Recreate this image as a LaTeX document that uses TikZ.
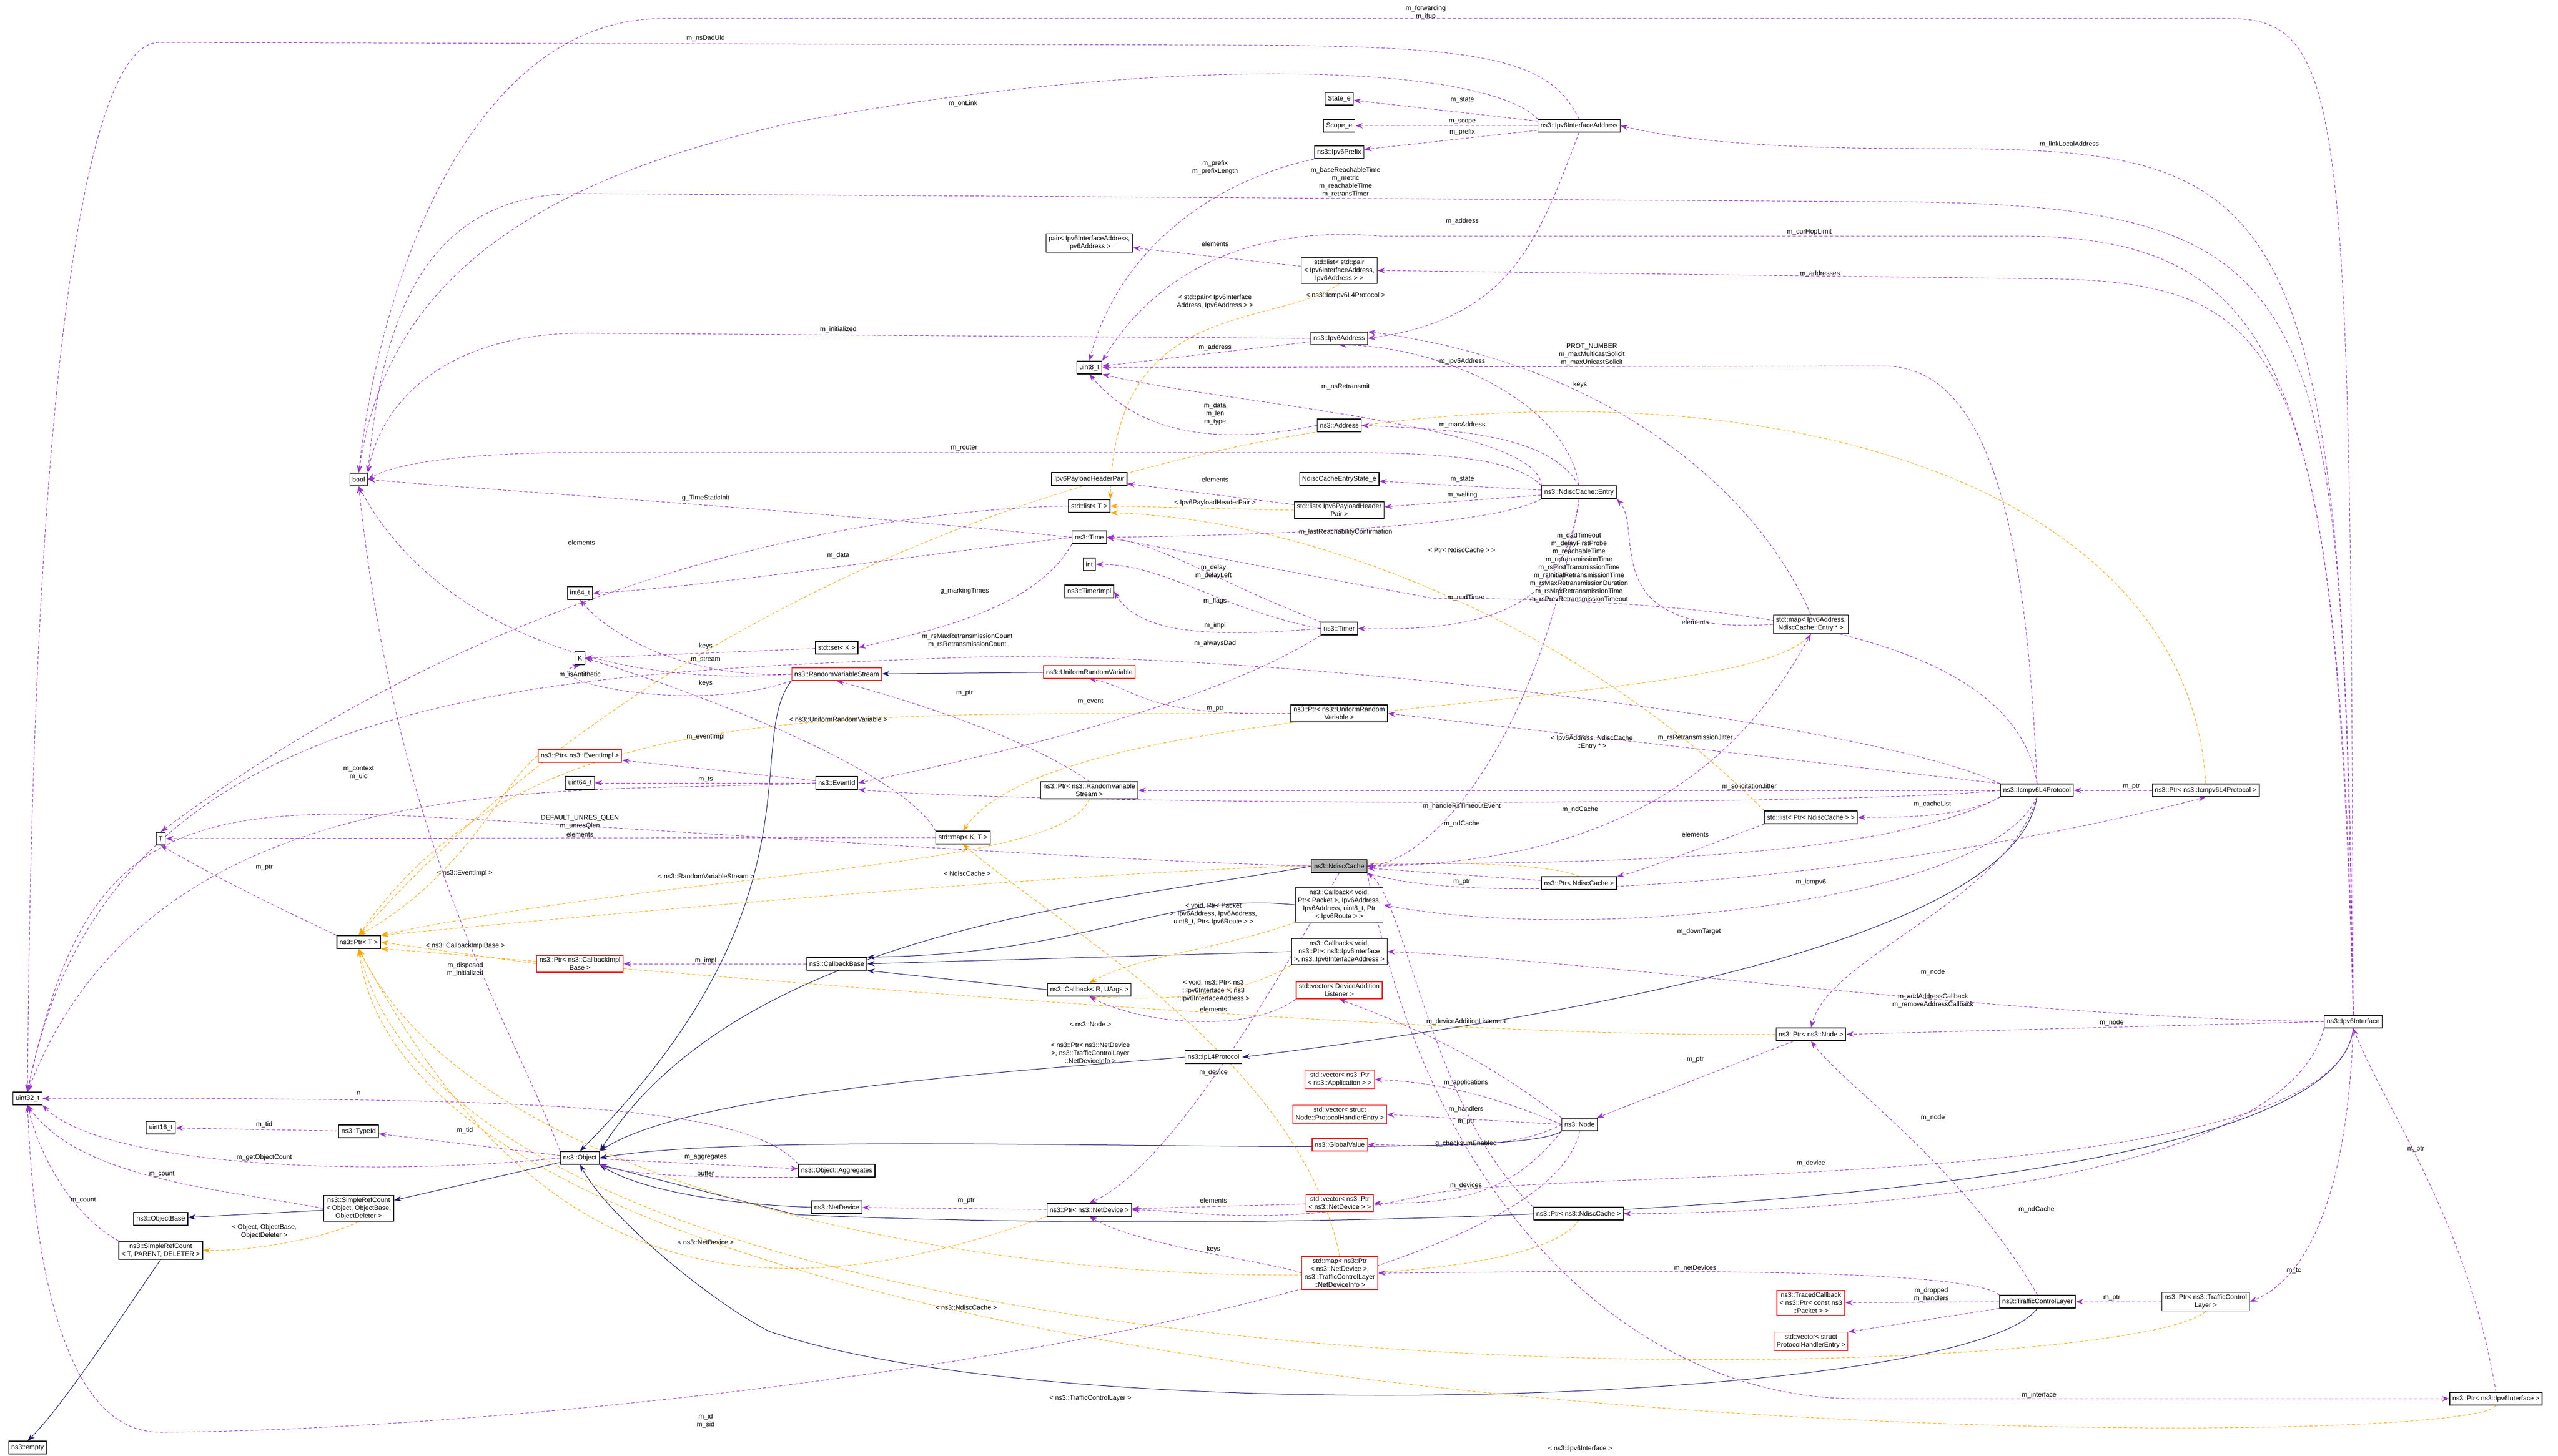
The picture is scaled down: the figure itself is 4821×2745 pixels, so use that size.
\documentclass[tikz,border=0pt]{standalone}
\usepackage{fontspec}
\setmainfont{Liberation Sans}
\usetikzlibrary{arrows.meta}
\definecolor{dorchid}{RGB}{154,50,205}
\definecolor{mnblue}{RGB}{25,25,112}
\definecolor{dorange}{RGB}{255,165,0}
\newcommand{\fs}{\fontsize{12.5}{15}\selectfont}
\pgfdeclarelayer{edges}
\pgfsetlayers{edges,main}
\begin{document}
\begin{tikzpicture}[x=1pt,y=-1pt,
  cls/.style={draw=black,line width=1.3pt,fill=white,font=\fs,align=center,inner xsep=5pt,inner ysep=4pt,minimum height=24pt},
  redcls/.style={cls,draw=red},
  cur/.style={cls,fill=gray!60},
  lbl/.style={font=\fs,align=center,inner sep=1pt},
  mem/.style={draw=dorchid,line width=1pt,dash pattern=on 6pt off 4pt,-{Stealth[length=14pt,width=10pt]}},
  inh/.style={draw=mnblue,line width=1pt,-{Stealth[length=14pt,width=10pt]}},
  tpl/.style={draw=dorange,line width=1pt,dash pattern=on 6pt off 4pt,-{Stealth[length=14pt,width=10pt]}}]
\useasboundingbox (0,0) rectangle (4821,2745);
% nodes, left part
\node[cls] (bool) at (676,904) {bool};
\node[cls] (u32) at (52,2071) {uint32\_t};
\node[cls] (u16) at (303,2126) {uint16\_t};
\node[cls] (T) at (303,1581) {T};
\node[cls] (ptrT) at (676,1776) {ns3::Ptr< T >};
\node[cls] (i64) at (1093,1118) {int64\_t};
\node[cls] (K) at (1093,1241) {K};
\node[cls] (setK) at (1577,1221) {std::set< K >};
\node[redcls] (rvs) at (1577,1271) {ns3::RandomVariableStream};
\node[redcls] (ptrEv) at (1093,1425) {ns3::Ptr< ns3::EventImpl >};
\node[cls] (u64) at (1093,1476) {uint64\_t};
\node[cls] (evid) at (1577,1476) {ns3::EventId};
\node[redcls] (ptrCib) at (1093,1817) {ns3::Ptr< ns3::CallbackImpl\\Base >};
\node[cls] (cbb) at (1577,1817) {ns3::CallbackBase};
\node[cls] (tid) at (676,2133) {ns3::TypeId};
\node[cls] (obj) at (1093,2183) {ns3::Object};
\node[cls] (aggr) at (1577,2207) {ns3::Object::Aggregates};
\node[cls] (netdev) at (1577,2276) {ns3::NetDevice};
\node[cls] (srcObj) at (676,2278) {ns3::SimpleRefCount\\< Object, ObjectBase,\\ObjectDeleter >};
\node[cls] (objbase) at (303,2298) {ns3::ObjectBase};
\node[cls] (srcT) at (303,2357) {ns3::SimpleRefCount\\< T, PARENT, DELETER >};
\node[cls] (empty) at (52,2729) {ns3::empty};
% nodes, middle columns
\node[cls] (stateE) at (2524,186) {State\_e};
\node[cls] (scopeE) at (2524,237) {Scope\_e};
\node[cls] (prefix) at (2524,287) {ns3::Ipv6Prefix};
\node[cls] (ipia) at (2976,237) {ns3::Ipv6InterfaceAddress};
\node[cls] (pairIA) at (2053,458) {pair< Ipv6InterfaceAddress,\\Ipv6Address >};
\node[cls] (listPair) at (2524,510) {std::list< std::pair\\< Ipv6InterfaceAddress,\\Ipv6Address > >};
\node[cls] (ipv6addr) at (2524,638) {ns3::Ipv6Address};
\node[cls] (u8) at (2053,693) {uint8\_t};
\node[cls] (address) at (2524,802) {ns3::Address};
\node[cls] (phpair) at (2053,903) {Ipv6PayloadHeaderPair};
\node[cls] (entState) at (2524,903) {NdiscCacheEntryState\_e};
\node[cls] (listT) at (2053,954) {std::list< T >};
\node[cls] (listPhp) at (2524,962) {std::list< Ipv6PayloadHeader\\Pair >};
\node[cls] (entry) at (2976,928) {ns3::NdiscCache::Entry};
\node[cls] (time) at (2053,1013) {ns3::Time};
\node[cls] (int) at (2053,1064) {int};
\node[cls] (timerImpl) at (2053,1115) {ns3::TimerImpl};
\node[cls] (timer) at (2524,1185) {ns3::Timer};
\node[redcls] (urv) at (2053,1267) {ns3::UniformRandomVariable};
\node[cls] (ptrUrv) at (2524,1345) {ns3::Ptr< ns3::UniformRandom\\Variable >};
\node[cls] (ptrRvs) at (2053,1490) {ns3::Ptr< ns3::RandomVariable\\Stream >};
\node[cls] (mapKT) at (1815,1579) {std::map< K, T >};
\node[cur] (ndc) at (2524,1633) {ns3::NdiscCache};
\node[cls] (ptrNdc) at (2976,1665) {ns3::Ptr< NdiscCache >};
\node[cls] (cbPkt) at (2524,1706) {ns3::Callback< void,\\Ptr< Packet >, Ipv6Address,\\Ipv6Address, uint8\_t, Ptr\\< Ipv6Route > >};
\node[cls] (cbIf) at (2524,1794) {ns3::Callback< void,\\ns3::Ptr< ns3::Ipv6Interface\\>, ns3::Ipv6InterfaceAddress >};
\node[cls] (cbR) at (2053,1866) {ns3::Callback< R, UArgs >};
\node[redcls] (dal) at (2524,1867) {std::vector< DeviceAddition\\Listener >};
\node[cls] (l4) at (2287,1993) {ns3::IpL4Protocol};
\node[redcls] (vApp) at (2525,2035) {std::vector< ns3::Ptr\\< ns3::Application > >};
\node[redcls] (vPhe) at (2525,2101) {std::vector< struct\\Node::ProtocolHandlerEntry >};
\node[redcls] (gval) at (2525,2158) {ns3::GlobalValue};
\node[redcls] (vDev) at (2525,2268) {std::vector< ns3::Ptr\\< ns3::NetDevice > >};
\node[cls] (ptrDev) at (2053,2281) {ns3::Ptr< ns3::NetDevice >};
\node[redcls] (mapDev) at (2525,2400) {std::map< ns3::Ptr\\< ns3::NetDevice >,\\ns3::TrafficControlLayer\\::NetDeviceInfo >};
\node[cls] (node) at (2977,2120) {ns3::Node};
\node[cls] (ptrNdc2) at (2975,2288) {ns3::Ptr< ns3::NdiscCache >};
% nodes, right part
\node[cls] (mapEntry) at (3413,1177) {std::map< Ipv6Address,\\NdiscCache::Entry * >};
\node[cls] (icmp) at (3839,1490) {ns3::Icmpv6L4Protocol};
\node[cls] (ptrIcmp) at (4157,1490) {ns3::Ptr< ns3::Icmpv6L4Protocol >};
\node[cls] (listPtrNdc) at (3413,1541) {std::list< Ptr< NdiscCache > >};
\node[cls] (ptrNode) at (3413,1950) {ns3::Ptr< ns3::Node >};
\node[cls] (ipif) at (4435,1926) {ns3::Ipv6Interface};
\node[redcls] (traced) at (3413,2456) {ns3::TracedCallback\\< ns3::Ptr< const ns3\\::Packet > >};
\node[cls] (tcl) at (3840,2454) {ns3::TrafficControlLayer};
\node[cls] (ptrTcl) at (4157,2454) {ns3::Ptr< ns3::TrafficControl\\Layer >};
\node[redcls] (vPhe2) at (3413,2529) {std::vector< struct\\ProtocolHandlerEntry >};
\node[cls] (ptrIpif) at (4704,2637) {ns3::Ptr< ns3::Ipv6Interface >};
\begin{pgfonlayer}{edges}
% inheritance
\draw[inh] (srcObj) -- (objbase);
\draw[inh] (obj) -- (srcObj);
\draw[inh] (srcT.south) .. controls (250,2450) and (120,2650) .. (empty.north);
\draw[inh] (urv) -- (rvs);
\draw[inh] (rvs.south west) .. controls (1400,1400) and (1560,1700) .. (obj.north);
\draw[inh] (ndc.west) .. controls (2100,1700) and (1400,1750) .. (obj.north east);
\draw[inh] (cbPkt.west) .. controls (2200,1680) and (2050,1800) .. (cbb.north east);
\draw[inh] (cbIf.west) -- (cbb.east);
\draw[inh] (cbR.west) -- (cbb.south east);
\draw[inh] (icmp.south) .. controls (3800,1750) and (3100,1900) .. (l4.east);
\draw[inh] (l4.west) .. controls (1900,2020) and (1300,2060) .. (obj.north east);
\draw[inh] (node.south west) .. controls (2850,2200) and (1500,2120) .. (obj.east);
\draw[inh] (netdev.west) .. controls (1350,2270) and (1200,2240) .. (obj.south east);
\draw[inh] (ipif.south) .. controls (4400,2300) and (2400,2330) .. (1500,2290) -- (obj.south east);
\draw[inh] (tcl.south) .. controls (3700,2650) and (2000,2700) .. (1450,2510) .. controls (1350,2460) and (1150,2300) .. (obj.south);
% template instances
\draw[tpl] (ptrEv.west) .. controls (950,1470) and (880,1650) .. (ptrT.north);
\draw[tpl] (ptrCib.west) -- (ptrT.east);
\draw[tpl] (ptrUrv.west) .. controls (1600,1350) and (1000,1300) .. (ptrT.north);
\draw[tpl] (ptrRvs.south) .. controls (2000,1640) and (1300,1640) .. (ptrT.north east);
\draw[tpl] (ptrNdc.north) .. controls (2800,1580) and (1600,1680) .. (ptrT.north east);
\draw[tpl] (ptrNode.west) .. controls (2600,1960) and (900,1800) .. (ptrT.south east);
\draw[tpl] (ptrDev.south west) .. controls (1400,2500) and (1000,2400) .. (ptrT.south);
\draw[tpl] (ptrNdc2.south) .. controls (2850,2500) and (1000,2450) .. (ptrT.south);
\draw[tpl] (ptrTcl.south) .. controls (4000,2620) and (900,2700) .. (ptrT.south);
\draw[tpl] (ptrIpif.south) .. controls (4650,2750) and (800,2745) .. (ptrT.south);
\draw[tpl] (ptrIcmp.north) .. controls (4100,500) and (1800,500) .. (ptrT.north);
\draw[tpl] (listPair.south) .. controls (2400,620) and (2100,560) .. (listT.north east);
\draw[tpl] (listPhp.west) -- (listT.east);
\draw[tpl] (listPtrNdc.north west) .. controls (3000,1200) and (2500,980) .. (listT.south east);
\draw[tpl] (mapEntry.south) .. controls (3300,1350) and (2000,1300) .. (mapKT.north);
\draw[tpl] (mapDev.north) .. controls (2450,2000) and (2000,1750) .. (mapKT.south);
\draw[tpl] (cbPkt.south west) .. controls (2300,1790) and (2150,1800) .. (cbR.north);
\draw[tpl] (cbIf.south west) .. controls (2300,1900) and (2100,1880) .. (cbR.south);
\draw[tpl] (srcObj.south) .. controls (600,2340) and (450,2360) .. (srcT.east);
% members
\draw[mem] (ipif.north) .. controls (4430,200) and (4420,35) .. (4200,35) -- (1250,35) .. controls (900,35) and (720,500) .. (bool.north);
\draw[mem] (ipia.north) .. controls (2920,110) and (2800,85) .. (2300,85) -- (300,80) .. controls (150,80) and (60,800) .. (u32.north);
\draw[mem] (ipia.north west) .. controls (2800,120) and (2200,100) .. (1500,230) .. controls (900,360) and (720,600) .. (bool.north);
\draw[mem] (ipif.north) .. controls (4410,500) and (4400,380) .. (3500,380) -- (1100,365) .. controls (800,360) and (720,600) .. (bool.north east);
\draw[mem] (ipif.north) .. controls (4420,300) and (4300,280) .. (3600,280) .. controls (3300,280) and (3150,260) .. (ipia.east);
\draw[mem] (ipia) -- (stateE);
\draw[mem] (ipia) -- (scopeE);
\draw[mem] (ipia) -- (prefix);
\draw[mem] (ipia.south) .. controls (2900,450) and (2850,600) .. (ipv6addr.east);
\draw[mem] (prefix.south west) .. controls (2250,350) and (2100,500) .. (u8.north);
\draw[mem] (listPair) -- (pairIA);
\draw[mem] (ipif.north) .. controls (4400,600) and (4300,525) .. (3800,525) -- (listPair.east);
\draw[mem] (ipif.north) .. controls (4410,700) and (4300,445) .. (3800,445) -- (2600,445) .. controls (2300,420) and (2150,560) .. (u8.north east);
\draw[mem] (ipv6addr.west) -- (1100,628) .. controls (850,628) and (720,750) .. (bool.north east);
\draw[mem] (ipv6addr) -- (u8);
\draw[mem] (icmp.north) .. controls (3820,1000) and (3750,690) .. (3550,690) -- (u8.east);
\draw[mem] (entry.north west) .. controls (2900,800) and (2300,760) .. (u8.south east);
\draw[mem] (address.west) .. controls (2300,840) and (2150,820) .. (u8.south);
\draw[mem] (entry.north) .. controls (2950,750) and (2700,650) .. (ipv6addr.south);
\draw[mem] (entry.north) .. controls (2920,820) and (2750,810) .. (address.east);
\draw[mem] (entry.north west) .. controls (2850,860) and (2700,853) .. (2500,853) -- (1100,853) .. controls (900,853) and (750,870) .. (bool.east);
\draw[mem] (entry) -- (entState);
\draw[mem] (entry) -- (listPhp);
\draw[mem] (listPhp) -- (phpair);
\draw[mem] (listT.west) .. controls (1700,960) and (1000,1050) .. (T.north);
\draw[mem] (time.west) .. controls (1500,960) and (1000,930) .. (bool.east);
\draw[mem] (time.west) .. controls (1700,1050) and (1300,1110) .. (i64.east);
\draw[mem] (entry.south west) .. controls (2800,1000) and (2300,1010) .. (time.east);
\draw[mem] (timer.north west) .. controls (2300,1100) and (2200,1030) .. (time.east);
\draw[mem] (timer.west) .. controls (2300,1150) and (2200,1064) .. (int.east);
\draw[mem] (timer.west) .. controls (2300,1200) and (2150,1200) .. (timerImpl.east);
\draw[mem] (timer.south west) .. controls (2300,1320) and (1900,1420) .. (evid.east);
\draw[mem] (entry.south) .. controls (2950,1150) and (2800,1190) .. (timer.east);
\draw[mem] (icmp.north) .. controls (3800,1200) and (3300,1128) .. (2700,1128) -- (time.east);
\draw[mem] (time.south west) .. controls (1950,1150) and (1750,1190) .. (setK.east);
\draw[mem] (setK) -- (K);
\draw[mem] (rvs.west) .. controls (1300,1280) and (1150,1200) .. (i64.south);
\draw[mem] (rvs.south west) .. controls (1300,1350) and (1000,1280) .. (K.south);
\draw[mem] (rvs.west) .. controls (1100,1300) and (800,1150) .. (bool.south);
\draw[mem] (icmp.north west) .. controls (3500,1350) and (2300,1220) .. (1800,1240) .. controls (1000,1270) and (200,1300) .. (u32.north);
\draw[mem] (ptrUrv.west) .. controls (2150,1350) and (2150,1300) .. (urv.south);
\draw[mem] (icmp.north west) -- (ptrUrv.east);
\draw[mem] (ptrRvs.north) .. controls (1950,1400) and (1750,1330) .. (rvs.south);
\draw[mem] (icmp.west) -- (ptrRvs.east);
\draw[mem] (evid) -- (ptrEv);
\draw[mem] (evid) -- (u64);
\draw[mem] (evid.west) .. controls (1100,1500) and (300,1420) .. (u32.north);
\draw[mem] (icmp.west) .. controls (3500,1520) and (2000,1520) .. (evid.south east);
\draw[mem] (mapKT.north west) .. controls (1700,1450) and (1300,1300) .. (K.east);
\draw[mem] (mapKT.west) -- (T.east);
\draw[mem] (ndc.west) .. controls (2000,1620) and (1200,1560) .. (800,1540) .. controls (300,1510) and (150,1600) .. (u32.north);
\draw[mem] (ptrT.north west) .. controls (500,1700) and (400,1650) .. (T.south);
\draw[mem] (cbb) -- (ptrCib);
\draw[mem] (obj.north west) .. controls (950,1900) and (750,1600) .. (bool.south);
\draw[mem] (obj) -- (tid);
\draw[mem] (tid) -- (u16);
\draw[mem] (obj.west) .. controls (700,2220) and (200,2200) .. (u32.south east);
\draw[mem] (srcObj.west) .. controls (400,2240) and (150,2220) .. (u32.south);
\draw[mem] (srcT.north west) .. controls (150,2300) and (80,2200) .. (u32.south);
\draw[mem] (aggr.north west) .. controls (1400,2080) and (1000,2070) .. (u32.east);
\draw[mem] (obj) -- (aggr);
\draw[mem] (aggr.south west) .. controls (1400,2220) and (1200,2220) .. (obj.south east);
\draw[mem] (ptrDev) -- (netdev);
\draw[mem] (entry.south) .. controls (2900,1400) and (2700,1620) .. (ndc.east);
\draw[mem] (icmp.south west) .. controls (3500,1650) and (2700,1620) .. (ndc.east);
\draw[mem] (ptrNdc) -- (ndc);
\draw[mem] (ptrNdc2.north west) .. controls (2700,2100) and (2650,1700) .. (ndc.south east);
\draw[mem] (ndc.south east) .. controls (2800,1720) and (3600,1650) .. (ptrIcmp.south);
\draw[mem] (ndc.east) .. controls (3100,1630) and (3300,1400) .. (mapEntry.south);
\draw[mem] (icmp.south west) .. controls (3700,1540) and (3600,1541) .. (listPtrNdc.east);
\draw[mem] (listPtrNdc.south west) .. controls (3200,1600) and (3100,1640) .. (ptrNdc.north east);
\draw[mem] (mapEntry.west) .. controls (3000,1200) and (3100,1000) .. (entry.south east);
\draw[mem] (mapEntry.north) .. controls (3300,900) and (3000,680) .. (ipv6addr.north east);
\draw[mem] (ptrIcmp) -- (icmp);
\draw[mem] (icmp.south) .. controls (3750,1700) and (3000,1780) .. (cbPkt.east);
\draw[mem] (ipif.west) .. controls (3800,1920) and (3000,1810) .. (cbIf.east);
\draw[mem] (icmp.south) .. controls (3780,1700) and (3450,1800) .. (ptrNode.north);
\draw[mem] (ipif.west) -- (ptrNode.east);
\draw[mem] (tcl.north) .. controls (3700,2200) and (3480,2050) .. (ptrNode.south);
\draw[mem] (ptrNode) -- (node);
\draw[mem] (node.north west) .. controls (2800,2000) and (2700,1950) .. (dal.south);
\draw[mem] (dal.south west) .. controls (2350,1950) and (2150,1930) .. (cbR.south);
\draw[mem] (node.west) .. controls (2800,2060) and (2700,2040) .. (vApp.east);
\draw[mem] (node.west) -- (vPhe.east);
\draw[mem] (node.west) .. controls (2850,2170) and (2700,2160) .. (gval.east);
\draw[mem] (node.south west) .. controls (2850,2250) and (2750,2270) .. (vDev.east);
\draw[mem] (vDev) -- (ptrDev);
\draw[mem] (ndc.south) .. controls (2380,1900) and (2200,2200) .. (ptrDev.north);
\draw[mem] (ipif.south) .. controls (4400,2250) and (3000,2200) .. (2700,2250) .. controls (2400,2320) and (2250,2281) .. (ptrDev.east);
\draw[mem] (node.south) .. controls (2900,2500) and (1000,2700) .. (300,2700) .. controls (100,2700) and (60,2300) .. (u32.south);
\draw[mem] (ipif.south west) .. controls (4300,2260) and (3300,2288) .. (ptrNdc2.east);
\draw[mem] (tcl.north west) .. controls (3700,2380) and (2800,2400) .. (mapDev.east);
\draw[mem] (mapDev.west) .. controls (2400,2380) and (2150,2350) .. (ptrDev.south);
\draw[mem] (tcl) -- (traced);
\draw[mem] (tcl.south west) -- (vPhe2.north east);
\draw[mem] (ptrTcl) -- (tcl);
\draw[mem] (ipif.south) .. controls (4420,2350) and (4300,2430) .. (ptrTcl.east);
\draw[mem] (ptrIpif.north) .. controls (4650,2300) and (4500,2100) .. (ipif.south);
\draw[mem] (ndc.south east) .. controls (2700,2300) and (3100,2637) .. (3500,2637) -- (ptrIpif.west);
\end{pgfonlayer}
% labels
\node[lbl] (lFwd) at (2687,24) {m\_forwarding\\m\_ifup};
\node[lbl] (lDad) at (1330,72) {m\_nsDadUid};
\node[lbl] (lOnl) at (1815,195) {m\_onLink};
\node[lbl] (lLla) at (3900,272) {m\_linkLocalAddress};
\node[lbl] (lState) at (2756,189) {m\_state};
\node[lbl] (lScope) at (2756,229) {m\_scope};
\node[lbl] (lPfx) at (2756,249) {m\_prefix};
\node[lbl] (lPfx2) at (2290,316) {m\_prefix\\m\_prefixLength};
\node[lbl] (lBrt) at (2536,344) {m\_baseReachableTime\\m\_metric\\m\_reachableTime\\m\_retransTimer};
\node[lbl] (lAddr) at (2756,417) {m\_address};
\node[lbl] (lHop) at (3410,437) {m\_curHopLimit};
\node[lbl] (lElPair) at (2290,460) {elements};
\node[lbl] (lAddrs) at (3430,516) {m\_addresses};
\node[lbl] (lTplIcmp) at (2536,557) {< ns3::Icmpv6L4Protocol >};
\node[lbl] (lTplPair) at (2290,569) {< std::pair< Ipv6Interface\\Address, Ipv6Address > >};
\node[lbl] (lInit) at (1580,621) {m\_initialized};
\node[lbl] (lAddr2) at (2290,655) {m\_address};
\node[lbl] (lIpv6) at (2756,681) {m\_ipv6Address};
\node[lbl] (lProt) at (3000,668) {PROT\_NUMBER\\m\_maxMulticastSolicit\\m\_maxUnicastSolicit};
\node[lbl] (lKeys) at (2978,725) {keys};
\node[lbl] (lNsr) at (2536,729) {m\_nsRetransmit};
\node[lbl] (lData) at (2290,780) {m\_data\\m\_len\\m\_type};
\node[lbl] (lMac) at (2756,801) {m\_macAddress};
\node[lbl] (lRouter) at (1817,845) {m\_router};
\node[lbl] (lEst) at (2756,904) {m\_state};
\node[lbl] (lElPh) at (2290,904) {elements};
\node[lbl] (lWait) at (2756,933) {m\_waiting};
\node[lbl] (lTplPh) at (2290,948) {< Ipv6PayloadHeaderPair >};
\node[lbl] (lTsi) at (1330,939) {g\_TimeStaticInit};
\node[lbl] (lElT) at (1096,1023) {elements};
\node[lbl] (lLrc) at (2536,1003) {m\_lastReachabilityConfirmation};
\node[lbl] (lTimes) at (2976,1070) {m\_dadTimeout\\m\_delayFirstProbe\\m\_reachableTime\\m\_retransmissionTime\\m\_rsFirstTransmissionTime\\m\_rsInitialRetransmissionTime\\m\_rsMaxRetransmissionDuration\\m\_rsMaxRetransmissionTime\\m\_rsPrevRetransmissionTimeout};
\node[lbl] (lPtrNdcT) at (2755,1037) {< Ptr< NdiscCache > >};
\node[lbl] (lMdata) at (1580,1047) {m\_data};
\node[lbl] (lDelay) at (2287,1078) {m\_delay\\m\_delayLeft};
\node[lbl] (lMark) at (1818,1114) {g\_markingTimes};
\node[lbl] (lNud) at (2763,1127) {m\_nudTimer};
\node[lbl] (lFlags) at (2290,1133) {m\_flags};
\node[lbl] (lElEnt) at (3195,1173) {elements};
\node[lbl] (lImpl) at (2290,1179) {m\_impl};
\node[lbl] (lRsCnt) at (1823,1208) {m\_rsMaxRetransmissionCount\\m\_rsRetransmissionCount};
\node[lbl] (lAlw) at (2290,1213) {m\_alwaysDad};
\node[lbl] (lKeysS) at (1330,1218) {keys};
\node[lbl] (lStream) at (1330,1244) {m\_stream};
\node[lbl] (lAnti) at (1093,1272) {m\_isAntithetic};
\node[lbl] (lKeysM) at (1330,1288) {keys};
\node[lbl] (lPtrR) at (1818,1307) {m\_ptr};
\node[lbl] (lEvent) at (2055,1323) {m\_event};
\node[lbl] (lPtrU) at (2290,1336) {m\_ptr};
\node[lbl] (lRsJit) at (3195,1391) {m\_rsRetransmissionJitter};
\node[lbl] (lTplU) at (1580,1356) {< ns3::UniformRandomVariable >};
\node[lbl] (lTplE) at (3000,1400) {< Ipv6Address, NdiscCache\\::Entry * >};
\node[lbl] (lEvImpl) at (1330,1389) {m\_eventImpl};
\node[lbl] (lCtx) at (676,1457) {m\_context\\m\_uid};
\node[lbl] (lTs) at (1330,1470) {m\_ts};
\node[lbl] (lSol) at (3297,1483) {m\_solicitationJitter};
\node[lbl] (lHrs) at (2755,1520) {m\_handleRsTimeoutEvent};
\node[lbl] (lNdc1) at (2978,1526) {m\_ndCache};
\node[lbl] (lCList) at (3642,1516) {m\_cacheList};
\node[lbl] (lPtrIc) at (4017,1483) {m\_ptr};
\node[lbl] (lUnres) at (1093,1550) {DEFAULT\_UNRES\_QLEN\\m\_unresQlen};
\node[lbl] (lElKT) at (1093,1573) {elements};
\node[lbl] (lNdc2) at (2755,1553) {m\_ndCache};
\node[lbl] (lElL) at (3195,1573) {elements};
\node[lbl] (lPtrT) at (498,1636) {m\_ptr};
\node[lbl] (lTplEv) at (876,1646) {< ns3::EventImpl >};
\node[lbl] (lTplR) at (1331,1652) {< ns3::RandomVariableStream >};
\node[lbl] (lTplN) at (1823,1647) {< NdiscCache >};
\node[lbl] (lPtrN1) at (2755,1663) {m\_ptr};
\node[lbl] (lIcmpv6) at (3413,1663) {m\_icmpv6};
\node[lbl] (lTplPkt) at (2287,1723) {< void, Ptr< Packet\\>, Ipv6Address, Ipv6Address,\\uint8\_t, Ptr< Ipv6Route > >};
\node[lbl] (lDown) at (3202,1756) {m\_downTarget};
\node[lbl] (lTplCib) at (877,1783) {< ns3::CallbackImplBase >};
\node[lbl] (lDisp) at (877,1828) {m\_disposed\\m\_initialized};
\node[lbl] (lImplC) at (1330,1811) {m\_impl};
\node[lbl] (lNode1) at (3643,1833) {m\_node};
\node[lbl] (lTplIf) at (2287,1868) {< void, ns3::Ptr< ns3\\::Ipv6Interface >, ns3\\::Ipv6InterfaceAddress >};
\node[lbl] (lAddCb) at (3643,1887) {m\_addAddressCallback\\m\_removeAddressCallback};
\node[lbl] (lElCb) at (2287,1903) {elements};
\node[lbl] (lTplNode) at (2055,1931) {< ns3::Node >};
\node[lbl] (lNode2) at (3980,1928) {m\_node};
\node[lbl] (lDal) at (2763,1926) {m\_deviceAdditionListeners};
\node[lbl] (lTplDev) at (2055,1985) {< ns3::Ptr< ns3::NetDevice\\>, ns3::TrafficControlLayer\\::NetDeviceInfo >};
\node[lbl] (lPtrNd) at (3195,1998) {m\_ptr};
\node[lbl] (lDevice) at (2287,2022) {m\_device};
\node[lbl] (lApps) at (2763,2041) {m\_applications};
\node[lbl] (lNuInt) at (676,2061) {n};
\node[lbl] (lHand) at (2763,2091) {m\_handlers};
\node[lbl] (lPtrX) at (2763,2115) {m\_ptr};
\node[lbl] (lTid) at (876,2131) {m\_tid};
\node[lbl] (lTid2) at (498,2120) {m\_tid};
\node[lbl] (lChk) at (2763,2156) {g\_checksumEnabled};
\node[lbl] (lNode3) at (3643,2107) {m\_node};
\node[lbl] (lGoc) at (498,2182) {m\_getObjectCount};
\node[lbl] (lAggr) at (1330,2182) {m\_aggregates};
\node[lbl] (lBuf) at (1330,2212) {buffer};
\node[lbl] (lCount) at (305,2214) {m\_count};
\node[lbl] (lDev2) at (3413,2193) {m\_device};
\node[lbl] (lDevs) at (2763,2235) {m\_devices};
\node[lbl] (lCount2) at (157,2263) {m\_count};
\node[lbl] (lElDev) at (2287,2263) {elements};
\node[lbl] (lPtrD) at (1821,2264) {m\_ptr};
\node[lbl] (lNdc3) at (3838,2280) {m\_ndCache};
\node[lbl] (lTplSrc) at (498,2322) {< Object, ObjectBase,\\ObjectDeleter >};
\node[lbl] (lTplNd) at (1330,2342) {< ns3::NetDevice >};
\node[lbl] (lKeysD) at (2287,2355) {keys};
\node[lbl] (lNetDev) at (3195,2391) {m\_netDevices};
\node[lbl] (lTc) at (4323,2396) {m\_tc};
\node[lbl] (lDrop) at (3640,2441) {m\_dropped\\m\_handlers};
\node[lbl] (lPtrTc) at (3980,2447) {m\_ptr};
\node[lbl] (lPtrIf) at (4553,2167) {m\_ptr};
\node[lbl] (lTplNdc) at (1821,2465) {< ns3::NdiscCache >};
\node[lbl] (lTplTcl) at (2055,2636) {< ns3::TrafficControlLayer >};
\node[lbl] (lIface) at (3843,2630) {m\_interface};
\node[lbl] (lId) at (1330,2679) {m\_id\\m\_sid};
\node[lbl] (lTplIf2) at (2978,2731) {< ns3::Ipv6Interface >};
\end{tikzpicture}
\end{document}
